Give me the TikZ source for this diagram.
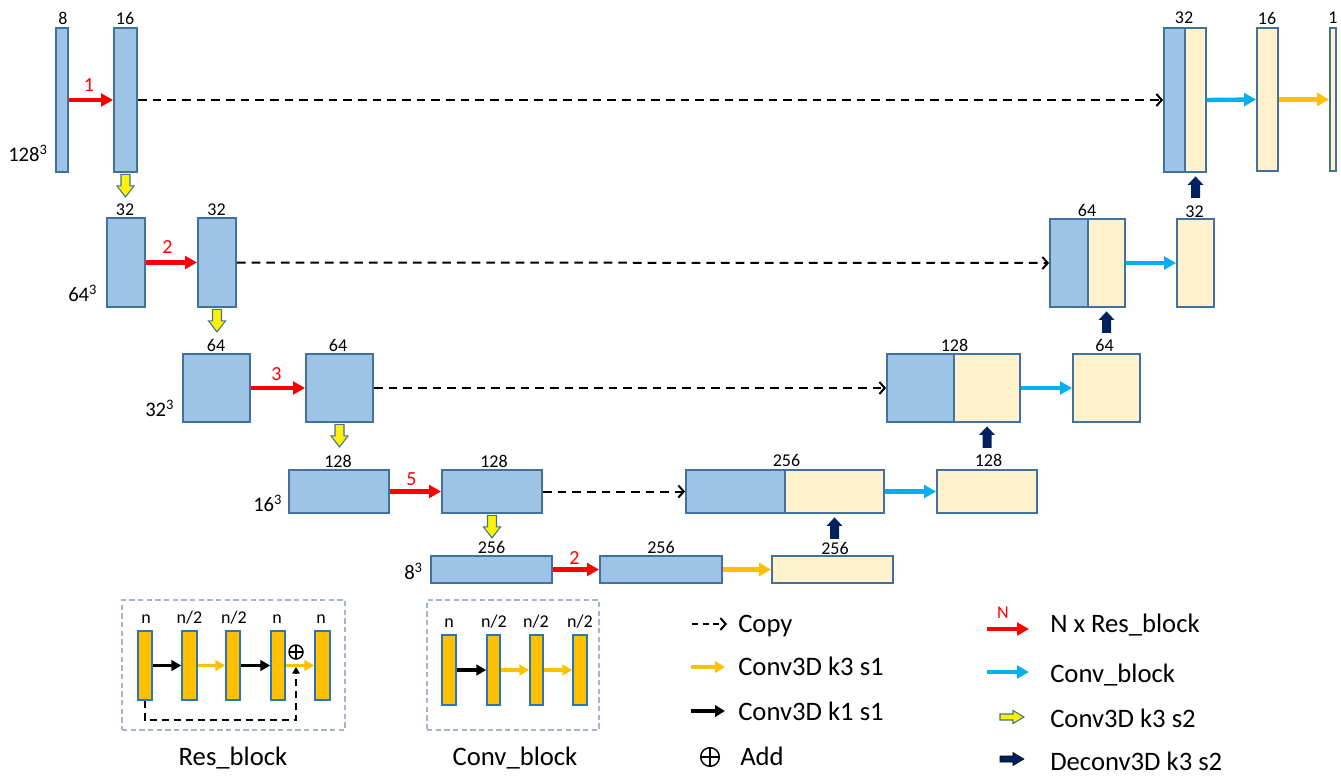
\documentclass[tikz,border=0pt]{standalone}
\usepackage{fontspec}
\setmainfont{Carlito}
\usetikzlibrary{arrows.meta,fit,calc}
\definecolor{boxblue}{HTML}{9DC3E6}
\definecolor{boxcream}{HTML}{FFF2CC}
\definecolor{edgeblue}{HTML}{41719C}
\definecolor{barorange}{HTML}{FFC000}
\definecolor{baredge}{HTML}{2E75B6}
\definecolor{cyanarr}{HTML}{00B0F0}
\definecolor{navyarr}{HTML}{002060}
\definecolor{legendgrey}{HTML}{A5B4CC}
\newcommand{\yeldown}[1]{\draw[draw=edgeblue, fill=yellow, line width=0.8pt, shift={(#1)}] (-4.5,1.5) -- (4.5,1.5) -- (4.5,13) -- (8.5,13) -- (0,24) -- (-8.5,13) -- (-4.5,13) -- cycle;}
\newcommand{\navyup}[1]{\fill[navyarr, shift={(#1)}] (0,3.5) -- (8,12) -- (4.5,12) -- (4.5,25) -- (-4.5,25) -- (-4.5,12) -- (-8,12) -- cycle;}
\newcommand{\fatright}[2]{\draw[#2, shift={(#1)}] (0,-3) -- (13,-3) -- (13,-6.5) -- (24,0) -- (13,6.5) -- (13,3) -- (0,3) -- cycle;}
\begin{document}
\begin{tikzpicture}[x=0.75pt,y=-0.75pt,
 blu/.style={draw=edgeblue, fill=boxblue, line width=1.4pt, inner sep=0pt},
 crm/.style={draw=edgeblue, fill=boxcream, line width=1.4pt, inner sep=0pt},
 bar/.style={draw=baredge, fill=barorange, line width=1.1pt, inner sep=0pt},
 lbl/.style={font=\fontsize{13.5}{15}\selectfont, inner sep=0pt},
 dimlbl/.style={font=\fontsize{15.5}{17}\selectfont, inner sep=0pt, anchor=base west},
 rnum/.style={font=\fontsize{15}{17}\selectfont, text=red, inner sep=0pt},
 nlbl/.style={font=\fontsize{13.5}{15}\selectfont, inner sep=0pt, anchor=base},
 legtxt/.style={font=\fontsize{20}{23}\selectfont, inner sep=0pt, anchor=base west},
 captxt/.style={font=\fontsize{20}{23}\selectfont, inner sep=0pt, anchor=base},
 redarr/.style={draw=red, line width=3.3pt, -{Triangle[length=9pt,width=9.5pt]}},
 cyanarrow/.style={draw=cyanarr, line width=3.3pt, -{Triangle[length=9pt,width=9.5pt]}},
 orarrow/.style={draw=barorange, line width=3.3pt, -{Triangle[length=9pt,width=9.5pt]}},
 copyarr/.style={draw=black, line width=1.5pt, dash pattern=on 6.5pt off 4.5pt, -{Straight Barb[length=4pt,width=9pt]}},
 kblack/.style={draw=black, line width=2.5pt, -{Triangle[length=7.5pt,width=8pt]}},
 korange/.style={draw=barorange, line width=2.5pt, -{Triangle[length=7.5pt,width=8pt]}},
 legbox/.style={draw=legendgrey, line width=1.4pt, dash pattern=on 4pt off 2.5pt, inner sep=0pt},
 addsym/.style={circle, draw=black, line width=1.1pt, inner sep=0pt, path picture={\draw[line width=1.1pt] (path picture bounding box.north) -- (path picture bounding box.south) (path picture bounding box.west) -- (path picture bounding box.east);}}
]
\fill[white] (0,0) rectangle (1341,775);
\useasboundingbox (0,0) rectangle (1341,775);

% ---------- encoder ----------
\node[blu, fit={(56,28) (68,172)}] (a1) {};
\node[blu, fit={(114,28) (137,172)}] (a2) {};
\node[blu, fit={(107,218) (145,307)}] (b1) {};
\node[blu, fit={(198,218) (236,307)}] (b2) {};
\node[blu, fit={(183,354) (250,422)}] (c1) {};
\node[blu, fit={(306,354) (373,422)}] (c2) {};
\node[blu, fit={(289,470) (389,513)}] (d1) {};
\node[blu, fit={(442,470) (542,513)}] (d2) {};
\node[blu, fit={(431,556) (552,583)}] (e1) {};
\node[blu, fit={(600,556) (722,583)}] (e2) {};
\node[crm, fit={(772,556) (893,583)}] (e3) {};

% ---------- decoder ----------
\node[blu, fit={(686,470) (785,513)}] (dcb) {};
\node[crm, fit={(785,470) (884,513)}] (dcc) {};
\node[crm, fit={(937,470) (1037,513)}] (f) {};
\node[blu, fit={(887,354) (954,422)}] (ccb) {};
\node[crm, fit={(954,354) (1020,422)}] (ccc) {};
\node[crm, fit={(1073,354) (1140,422)}] (g) {};
\node[blu, fit={(1050,219) (1088,307)}] (bcb) {};
\node[crm, fit={(1088,219) (1125,307)}] (bcc) {};
\node[crm, fit={(1177,219) (1214,307)}] (h) {};
\node[blu, fit={(1164,28) (1185,172)}] (acb) {};
\node[crm, fit={(1185,28) (1206,172)}] (acc) {};
\node[crm, fit={(1257,28) (1278,171)}] (i) {};
\node[crm, fit={(1330,28) (1336,171)}] (j) {};

% ---------- size labels ----------
\node[lbl] (la1) at (63,18) {8};
\node[lbl] (la2) at (125,18) {16};
\node[lbl] (lb1) at (125,210) {32};
\node[lbl] (lb2) at (216.5,210) {32};
\node[lbl] (lc1) at (216,345) {64};
\node[lbl] (lc2) at (338,345) {64};
\node[lbl] (ld1) at (338,461.5) {128};
\node[lbl] (ld2) at (494,461.5) {128};
\node[lbl] (le1) at (491.5,547.5) {256};
\node[lbl] (le2) at (661,547.5) {256};
\node[lbl] (le3) at (835,548.5) {256};
\node[lbl] (ldc) at (786.5,460.5) {256};
\node[lbl] (lf) at (988.5,460.5) {128};
\node[lbl] (lcc) at (954.5,345.5) {128};
\node[lbl] (lg) at (1104.5,345.5) {64};
\node[lbl] (lbc) at (1087,210.5) {64};
\node[lbl] (lh) at (1194.5,212) {32};
\node[lbl] (lac) at (1184,18) {32};
\node[lbl] (li) at (1267,18) {16};
\node[lbl] (lj) at (1333,18) {1};

% ---------- resolution labels ----------
\node[dimlbl] (r128) at (8,161) {128\textsuperscript{3}};
\node[dimlbl] (r64) at (68,301) {64\textsuperscript{3}};
\node[dimlbl] (r32) at (145,416) {32\textsuperscript{3}};
\node[dimlbl] (r16) at (253,511) {16\textsuperscript{3}};
\node[dimlbl] (r8) at (404,579) {8\textsuperscript{3}};

% ---------- red res-block arrows ----------
\draw[redarr] (a1.east) -- (a2.west);
\draw[redarr] (b1.east) -- (b2.west);
\draw[redarr] (c1.east) -- (c2.west);
\draw[redarr] (d1.east) -- (d2.west);
\draw[redarr] (e1.east) -- (e2.west);
\node[rnum] (n1) at (89,85.5) {1};
\node[rnum] (n2) at (167.5,247.5) {2};
\node[rnum] (n3) at (276.5,374) {3};
\node[rnum] (n5) at (411.5,479) {5};
\node[rnum] (n2b) at (574.5,557.5) {2};

% ---------- copy connections ----------
\draw[copyarr] (a2.east) -- (acb.west);
\draw[copyarr] (b2.east) -- (bcb.west);
\draw[copyarr] (c2.east) -- (ccb.west);
\draw[copyarr] (d2.east) -- (dcb.west);

% ---------- conv blocks / conv ----------
\draw[cyanarrow] (acc.east) -- (i.west);
\draw[cyanarrow] (bcc.east) -- (h.west);
\draw[cyanarrow] (ccc.east) -- (g.west);
\draw[cyanarrow] (dcc.east) -- (f.west);
\draw[orarrow] (i.east) -- (j.west);
\draw[orarrow] (e2.east) -- (e3.west);

% ---------- down / up sampling ----------
\yeldown{a2.south}
\yeldown{b2.south}
\yeldown{c2.south}
\yeldown{d2.south}
\navyup{acc.south}
\navyup{bcc.south}
\navyup{ccc.south}
\navyup{dcc.south}

% ---------- Res_block legend ----------
\node[legbox, fit={(122,600) (345,730)}] (resbox) {};
\node[bar, fit={(138,631) (152,700)}] (rb1) {};
\node[bar, fit={(182,631) (197,700)}] (rb2) {};
\node[bar, fit={(226,631) (240,700)}] (rb3) {};
\node[bar, fit={(271,631) (285,700)}] (rb4) {};
\node[bar, fit={(315,631) (330,700)}] (rb5) {};
\node[nlbl] (rn1) at (146,623) {n};
\node[nlbl] (rn2) at (189.5,623) {n/2};
\node[nlbl] (rn3) at (234,623) {n/2};
\node[nlbl] (rn4) at (277,623) {n};
\node[nlbl] (rn5) at (321,623) {n};
\draw[kblack] (rb1.east) -- (rb2.west);
\draw[korange] (rb2.east) -- (rb3.west);
\draw[kblack] (rb3.east) -- (rb4.west);
\draw[korange] (rb4.east) -- (rb5.west);
\node[addsym, minimum size=10.5pt] (radd) at (296,652) {};
\coordinate (rcorner) at (296,720);
\coordinate (rend) at (296,667);
\draw[black, line width=1.5pt, dash pattern=on 5.5pt off 3.5pt, -{Triangle[length=5pt,width=5.5pt]}] (rb1.south) |- (rcorner) -- (rend);
\node[captxt] (rescap) at (233,765) {Res\_block};

% ---------- Conv_block legend ----------
\node[legbox, fit={(427,600) (599,730)}] (convbox) {};
\node[bar, fit={(442,635) (456,705)}] (kb1) {};
\node[bar, fit={(487,635) (500,705)}] (kb2) {};
\node[bar, fit={(530,635) (543,705)}] (kb3) {};
\node[bar, fit={(573,635) (587,705)}] (kb4) {};
\node[nlbl] (kn1) at (449,627) {n};
\node[nlbl] (kn2) at (494,627) {n/2};
\node[nlbl] (kn3) at (536,627) {n/2};
\node[nlbl] (kn4) at (580,627) {n/2};
\draw[kblack] (kb1.east) -- (kb2.west);
\draw[korange] (kb2.east) -- (kb3.west);
\draw[korange] (kb3.east) -- (kb4.west);
\node[captxt] (convcap) at (515,765) {Conv\_block};

% ---------- legend ----------
\coordinate (lcs) at (692,624);
\coordinate (lce) at (727,624);
\draw[copyarr, dash pattern=on 4.5pt off 3.5pt] (lcs) -- (lce);
\node[legtxt] (tcopy) at (738,632) {Copy};
\coordinate (los) at (691,667);
\coordinate (loe) at (725,667);
\draw[orarrow, line width=2.8pt, -{Triangle[length=7.5pt,width=8.5pt]}] (los) -- (loe);
\node[legtxt] (tk3) at (738,675) {Conv3D k3 s1};
\coordinate (lks) at (691,711);
\coordinate (lke) at (725,711);
\draw[kblack, line width=2.8pt, -{Triangle[length=7.5pt,width=8.5pt]}] (lks) -- (lke);
\node[legtxt] (tk1) at (738,720) {Conv3D k1 s1};
\node[addsym, minimum size=14pt] (ladd) at (710,757) {};
\node[legtxt] (tadd) at (740,765) {Add};

\coordinate (lrs) at (987,629);
\coordinate (lre) at (1029,629);
\draw[redarr] (lrs) -- (lre);
\node[rnum, font=\fontsize{13.5}{15}\selectfont] (lN) at (1003,613) {N};
\node[legtxt] (tres) at (1050,632) {N x Res\_block};
\coordinate (lys) at (987,672);
\coordinate (lye) at (1029,672);
\draw[cyanarrow] (lys) -- (lye);
\node[legtxt] (tconvb) at (1050,682) {Conv\_block};
\coordinate (lyel) at (1000,717);
\fatright{lyel}{draw=edgeblue, fill=yellow, line width=0.8pt}
\node[legtxt] (ts2) at (1050,727) {Conv3D k3 s2};
\coordinate (lnav) at (1000,759);
\fatright{lnav}{fill=navyarr}
\node[legtxt] (tdec) at (1050,770) {Deconv3D k3 s2};
\end{tikzpicture}
\end{document}
